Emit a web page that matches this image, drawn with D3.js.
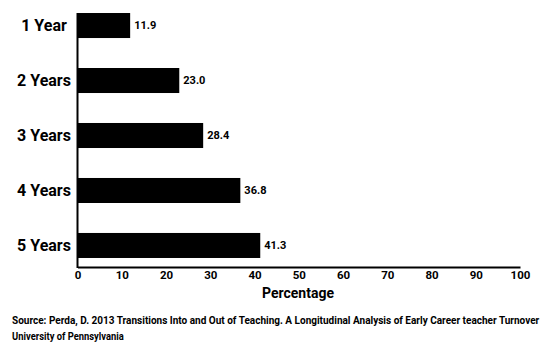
<!DOCTYPE html>
<html><head><meta charset="utf-8">
<script src="https://cdn.jsdelivr.net/npm/d3@7"></script>
<style>
body{margin:0;background:#fff;}
svg text{font-family:"Roboto","Liberation Sans",sans-serif;font-weight:bold;fill:#000;}
</style></head><body>
<svg id="c" width="556" height="351"></svg>
<script>
const categories = ["1 Year","2 Years","3 Years","4 Years","5 Years"];
const values = [11.9, 23.0, 28.4, 36.8, 41.3];
const valueLabels = ["11.9","23.0","28.4","36.8","41.3"];
const xTicks = [0,10,20,30,40,50,60,70,80,90,100];
const xTitle = "Percentage";
const sourceLines = ["Source: Perda, D. 2013 Transitions Into and Out of Teaching. A Longitudinal Analysis of Early Career teacher Turnover","University of Pennsylvania"];

const svg = d3.select("#c");
const x = d3.scaleLinear().domain([0,100]).range([77.5,520]);
const y = d3.scaleBand().domain(categories).range([-2,273]).paddingInner(0.545).paddingOuter(0.273);
const axisY = 267;

svg.selectAll("rect.bar").data(values).join("rect")
  .attr("class","bar")
  .attr("x", x(0))
  .attr("y",(d,i)=>y(categories[i]))
  .attr("width",d=>x(d)-x(0))
  .attr("height",y.bandwidth())
  .attr("fill","#000");

svg.selectAll("text.val").data(values).join("text")
  .attr("class","val")
  .attr("x",d=>x(d)+4)
  .attr("y",(d,i)=>y(categories[i])+y.bandwidth()/2)
  .attr("dy","0.35em")
  .attr("font-size",11)
  .text((d,i)=>valueLabels[i]);

svg.selectAll("text.cat").data(categories).join("text")
  .attr("class","cat")
  .attr("x",44)
  .attr("y",d=>y(d)+y.bandwidth()/2)
  .attr("dy","0.36em")
  .attr("text-anchor","middle")
  .attr("font-size",16)
  .text(d=>d);

// y axis line
svg.append("line").attr("x1",x(0)).attr("x2",x(0)).attr("y1",y(categories[0])).attr("y2",axisY+1)
  .attr("stroke","#000").attr("stroke-width",2);

// x axis
const xa = svg.append("g").attr("transform",`translate(0,${axisY})`)
  .call(d3.axisBottom(x).tickValues(xTicks).tickSize(0).tickPadding(4));
xa.select(".domain").attr("stroke","#000").attr("stroke-width",2);
xa.selectAll("text").attr("font-size",11.5).style("font-family",null);

svg.append("text").attr("x",298).attr("y",298).attr("text-anchor","middle")
  .attr("font-size",14).text(xTitle);

const targetW = [528, 112];
svg.selectAll("text.src").data(sourceLines).join("text")
  .attr("class","src")
  .attr("x",0).attr("y",0)
  .attr("font-size",10.5)
  .text(d=>d)
  .each(function(d,i){
    const w = this.getComputedTextLength();
    const s = Math.min(1, targetW[i]/w);
    d3.select(this).attr("transform",`translate(12,${324+i*16}) scale(${s},1)`);
  });
</script></body></html>
